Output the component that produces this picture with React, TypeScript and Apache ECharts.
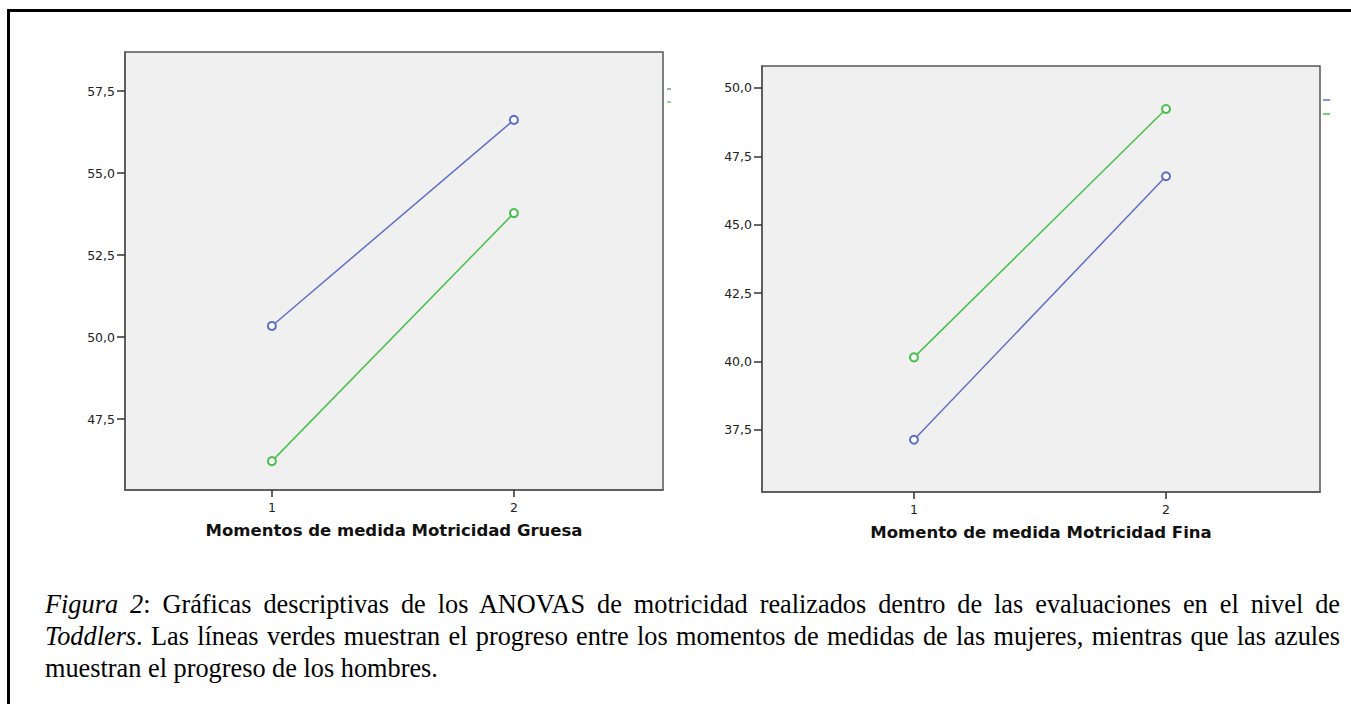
import React, { useEffect, useRef } from "react";
import * as echarts from "echarts";

// ---- data ----
const moments = [1, 2];
const momentLabels = ["1", "2"];
const grossMale = [50.34, 56.62];
const grossFemale = [46.22, 53.78];
const fineMale = [37.14, 46.77];
const fineFemale = [40.15, 49.23];
const grossTicks = [47.5, 50, 52.5, 55, 57.5];
const fineTicks = [37.5, 40, 42.5, 45, 47.5, 50];
const grossTitle = "Momentos de medida Motricidad Gruesa";
const fineTitle = "Momento de medida Motricidad Fina";
const seriesNames = ["Hombres", "Mujeres"];

const BLUE = "#5d70c4";
const GREEN = "#48c04d";

const fmt = (v: number) => v.toFixed(1).replace(".", ",");

export default function App() {
  const ref = useRef<HTMLDivElement>(null);

  useEffect(() => {
    if (!ref.current) return;
    const chart = echarts.init(ref.current, undefined, { renderer: "svg" });

    const yAxisBase = (min: number, max: number, ticks: number[], gridIndex: number) => ({
      type: "value" as const,
      gridIndex,
      min,
      max,
      splitLine: { show: false },
      axisLine: { show: true, lineStyle: { color: "#555", width: 1.5 } },
      axisTick: { show: true, length: 8, inside: false, customValues: ticks, lineStyle: { color: "#333", width: 1.5 } },
      axisLabel: {
        customValues: ticks,
        formatter: (v: number) => fmt(v),
        fontFamily: "DejaVu Sans",
        fontSize: 12.5,
        color: "#222",
        margin: 10,
      },
    });

    const xAxisBase = (min: number, max: number, name: string, gridIndex: number) => ({
      type: "value" as const,
      gridIndex,
      min,
      max,
      name,
      nameLocation: "middle" as const,
      nameGap: 32,
      nameTextStyle: { fontFamily: "DejaVu Sans", fontWeight: "bold" as const, fontSize: 16.5, color: "#111" },
      splitLine: { show: false },
      axisLine: { show: true, lineStyle: { color: "#555", width: 1.5 } },
      axisTick: { show: true, length: 7, customValues: moments, lineStyle: { color: "#333", width: 1.5 } },
      axisLabel: {
        customValues: moments,
        formatter: (v: number) => momentLabels[moments.indexOf(v)] ?? "",
        fontFamily: "DejaVu Sans",
        fontSize: 12.5,
        color: "#222",
        margin: 11,
      },
    });

    const lineSeries = (name: string, vals: number[], color: string, idx: number) => ({
      type: "line" as const,
      name,
      xAxisIndex: idx,
      yAxisIndex: idx,
      data: moments.map((m, i) => [m, vals[i]]),
      symbol: "emptyCircle",
      symbolSize: 8,
      showSymbol: true,
      lineStyle: { color, width: 1.5 },
      itemStyle: { color, borderColor: color, borderWidth: 1.5 },
      emphasis: { disabled: true },
    });

    chart.setOption({
      animation: false,
      backgroundColor: "transparent",
      grid: [
        { left: 125, top: 52, width: 538, height: 438, show: true, backgroundColor: "#f0f0f0", borderColor: "#555", borderWidth: 1.5 },
        { left: 762, top: 66, width: 558, height: 426, show: true, backgroundColor: "#f0f0f0", borderColor: "#555", borderWidth: 1.5 },
      ],
      xAxis: [xAxisBase(0.393, 2.616, grossTitle, 0), xAxisBase(0.397, 2.611, fineTitle, 1)],
      yAxis: [yAxisBase(45.34, 58.69, grossTicks, 0), yAxisBase(35.23, 50.8, fineTicks, 1)],
      series: [
        lineSeries(seriesNames[0], grossMale, BLUE, 0),
        lineSeries(seriesNames[1], grossFemale, GREEN, 0),
        lineSeries(seriesNames[0], fineMale, BLUE, 1),
        lineSeries(seriesNames[1], fineFemale, GREEN, 1),
      ],
      graphic: [
        { type: "line", shape: { x1: 667, y1: 89, x2: 671, y2: 89 }, style: { stroke: BLUE, lineWidth: 1.2 } },
        { type: "line", shape: { x1: 667, y1: 102, x2: 671, y2: 102 }, style: { stroke: GREEN, lineWidth: 1.2 } },
        { type: "line", shape: { x1: 1323, y1: 100, x2: 1330, y2: 100 }, style: { stroke: BLUE, lineWidth: 1.5 } },
        { type: "line", shape: { x1: 1323, y1: 114, x2: 1330, y2: 114 }, style: { stroke: GREEN, lineWidth: 1.5 } },
      ],
    });

    return () => chart.dispose();
  }, []);

  const lineStyle: React.CSSProperties = { textAlign: "justify", textAlignLast: "justify" };

  return (
    <div style={{ position: "fixed", left: 0, top: 0, width: 1351, height: 704, overflow: "hidden", background: "#fff" }}>
      <div style={{ position: "absolute", left: 7, top: 9, width: 1500, height: 900, borderTop: "3px solid #000", borderLeft: "3px solid #000" }} />
      <div ref={ref} style={{ position: "absolute", left: 0, top: 0, width: 1351, height: 580 }} />
      <div
        style={{
          position: "absolute",
          left: 45,
          top: 589,
          width: 1295,
          height: 99,
          overflow: "hidden",
          fontFamily: '"Liberation Serif", "Times New Roman", serif',
          fontSize: 26.3,
          lineHeight: "32px",
          color: "#000",
        }}
      >
        <div style={lineStyle}>
          <i>Figura 2</i>: Gráficas descriptivas de los ANOVAS de motricidad realizados dentro de las evaluaciones en el nivel de
        </div>
        <div style={lineStyle}>
          <i>Toddlers</i>. Las líneas verdes muestran el progreso entre los momentos de medidas de las mujeres, mientras que las azules
        </div>
        <div>muestran el progreso de los hombres.</div>
      </div>
    </div>
  );
}
